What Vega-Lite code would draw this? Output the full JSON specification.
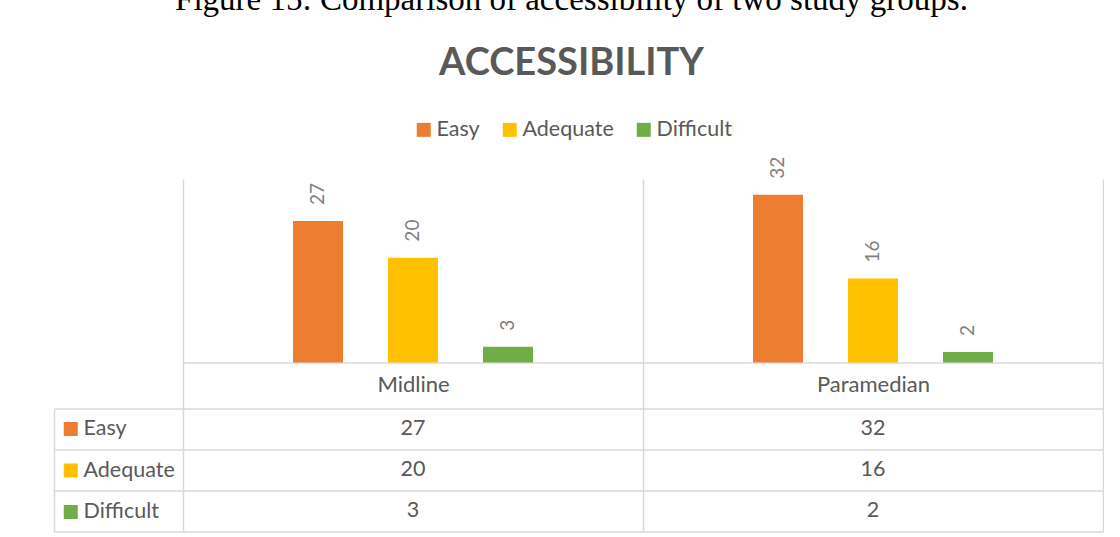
{
  "$schema": "https://vega.github.io/schema/vega-lite/v6.json",
  "padding": {"left": 53, "top": -17, "right": 0, "bottom": 0},
  "background": "white",
  "title": {
    "text": "Figure 15: Comparison of accessibility of two study groups.",
    "subtitle": "ACCESSIBILITY",
    "font": "Liberation Serif",
    "fontSize": 33,
    "fontWeight": "normal",
    "color": "#000000",
    "subtitleFont": "Lato",
    "subtitleFontSize": 38,
    "subtitleFontWeight": "bold",
    "subtitleColor": "#595959",
    "subtitlePadding": 28,
    "anchor": "middle",
    "dx": -7,
    "offset": 36
  },
  "data": {
    "values": [
      {"group": "Midline", "series": "Easy", "value": 27},
      {"group": "Midline", "series": "Adequate", "value": 20},
      {"group": "Midline", "series": "Difficult", "value": 3},
      {"group": "Paramedian", "series": "Easy", "value": 32},
      {"group": "Paramedian", "series": "Adequate", "value": 16},
      {"group": "Paramedian", "series": "Difficult", "value": 2}
    ]
  },
  "spacing": 45.5,
  "bounds": "flush",
  "resolve": {
    "scale": {"color": "independent", "x": "independent", "y": "independent"},
    "legend": {"color": "independent"}
  },
  "vconcat": [
    {
      "width": 920,
      "height": 183.5,
      "encoding": {
        "x": {
          "field": "group",
          "type": "nominal",
          "sort": ["Midline", "Paramedian"],
          "scale": {"paddingInner": 0, "paddingOuter": 0},
          "axis": {
            "title": null,
            "labelAngle": 0,
            "domain": true,
            "domainColor": "#D9D9D9",
            "domainWidth": 1.5,
            "grid": true,
            "gridColor": "#D9D9D9",
            "gridWidth": 1.5,
            "tickBand": "extent",
            "ticks": true,
            "tickSize": 46,
            "tickColor": "#D9D9D9",
            "tickWidth": 1.5,
            "labelPadding": -24,
            "labelBaseline": "middle",
            "labelFontSize": 22,
            "labelColor": "#595959",
            "labelFont": "Lato"
          }
        },
        "xOffset": {
          "field": "series",
          "type": "nominal",
          "sort": ["Easy", "Adequate", "Difficult"],
          "scale": {"range": [87.5, 372.5], "paddingInner": 0.4737, "paddingOuter": 0.2368}
        },
        "y": {
          "field": "value",
          "type": "quantitative",
          "scale": {"domain": [0, 35], "nice": false, "zero": true},
          "axis": null
        }
      },
      "layer": [
        {
          "mark": {"type": "bar"},
          "encoding": {
            "color": {
              "field": "series",
              "type": "nominal",
              "sort": ["Easy", "Adequate", "Difficult"],
              "scale": {"domain": ["Easy", "Adequate", "Difficult"], "range": ["#ED7D31", "#FFC000", "#70AD47"]},
              "legend": {
                "title": null,
                "orient": "none",
                "direction": "horizontal",
                "legendX": 230,
                "legendY": -60.25,
                "symbolType": "square",
                "symbolSize": 196,
                "symbolStrokeWidth": 0,
                "labelFontSize": 21.5,
                "labelColor": "#595959",
                "labelFont": "Lato",
                "labelOffset": 2,
                "columnPadding": 19,
                "padding": 0
              }
            }
          }
        },
        {
          "mark": {"type": "text", "angle": 270, "align": "left", "baseline": "middle", "dx": 16, "fontSize": 19, "color": "#7F7F7F", "font": "Lato"},
          "encoding": {"text": {"field": "value", "type": "quantitative"}}
        }
      ]
    },
    {
      "width": 920,
      "height": 123,
      "encoding": {
        "x": {
          "field": "group",
          "type": "nominal",
          "sort": ["Midline", "Paramedian"],
          "scale": {"paddingInner": 0, "paddingOuter": 0},
          "axis": {
            "title": null,
            "domain": false,
            "ticks": false,
            "labels": false,
            "grid": true,
            "gridColor": "#D9D9D9",
            "gridWidth": 1.5,
            "tickBand": "extent"
          }
        },
        "y": {
          "field": "series",
          "type": "nominal",
          "sort": ["Easy", "Adequate", "Difficult"],
          "scale": {"paddingInner": 0, "paddingOuter": 0},
          "axis": {
            "title": null,
            "offset": 129,
            "domain": true,
            "domainColor": "#D9D9D9",
            "domainWidth": 1.5,
            "ticks": true,
            "tickBand": "extent",
            "tickSize": -129,
            "tickColor": "#D9D9D9",
            "tickWidth": 1.5,
            "labels": false,
            "grid": true,
            "gridColor": "#D9D9D9",
            "gridWidth": 1.5
          }
        }
      },
      "layer": [
        {
          "mark": {"type": "square", "opacity": 0, "size": 1},
          "encoding": {
            "color": {
              "field": "series",
              "type": "nominal",
              "sort": ["Easy", "Adequate", "Difficult"],
              "scale": {"domain": ["Easy", "Adequate", "Difficult"], "range": ["#ED7D31", "#FFC000", "#70AD47"]},
              "legend": {
                "title": null,
                "orient": "none",
                "direction": "vertical",
                "legendX": -123,
                "legendY": 9.75,
                "symbolType": "square",
                "symbolSize": 196,
                "symbolOpacity": 1,
                "symbolStrokeWidth": 0,
                "labelFontSize": 21.5,
                "labelColor": "#595959",
                "labelFont": "Lato",
                "labelOffset": 2,
                "rowPadding": 18.5,
                "padding": 0
              }
            }
          }
        },
        {
          "mark": {"type": "text", "fontSize": 21.5, "color": "#595959", "font": "Lato", "baseline": "middle"},
          "encoding": {"text": {"field": "value", "type": "quantitative"}}
        }
      ]
    }
  ],
  "config": {
    "font": "Lato",
    "view": {"stroke": null}
  }
}
